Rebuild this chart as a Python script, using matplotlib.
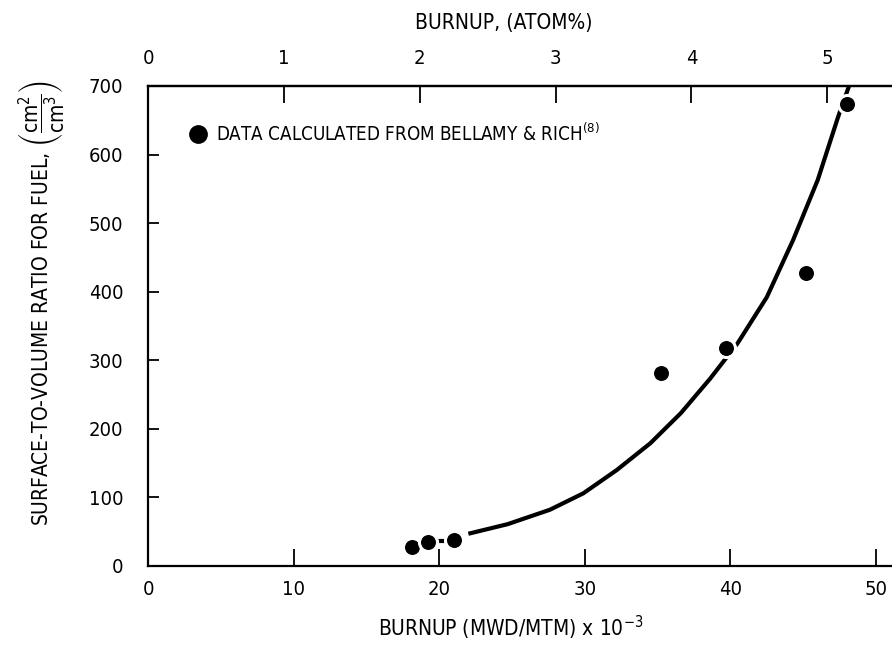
import matplotlib.pyplot as plt

plt.rcParams['font.family'] = ['DejaVu Sans']
plt.rcParams['font.stretch'] = 'condensed'

# data points (burnup MWD/MTM x 1e-3, surface-to-volume cm2/cm3)
burnup = [18.1, 19.2, 21.0, 35.2, 39.7, 45.2, 48.0]
ratio = [28, 35, 38, 281, 318, 427, 673]

# hand-drawn fit curve
curve_burnup = [22.0, 24.7, 27.6, 29.9, 32.2, 34.5, 36.6, 38.6, 40.5, 42.5, 44.3, 46.0, 47.4, 48.1, 48.3]
curve_ratio = [47, 61, 82, 106, 140, 179, 223, 273, 325, 392, 475, 563, 655, 697, 710]

# short connector between 2nd and 3rd points
dash_burnup = [19.9, 20.4]
dash_ratio = [37, 37]

MWD_PER_ATOM = 9.33

fig = plt.figure(figsize=(8.92, 6.45), dpi=100)
ax = fig.add_axes([0.166, 0.1225, 0.834, 0.7442])

ax.plot(curve_burnup, curve_ratio, color="black", lw=3, solid_capstyle="butt", zorder=2)
ax.plot(dash_burnup, dash_ratio, color="black", lw=3, solid_capstyle="butt", zorder=2)
ax.plot(burnup, ratio, "o", color="black", ms=13, mec="white", mew=2.2, zorder=3)

# legend entry
ax.plot([3.4], [630], "o", color="black", ms=12.5)
ax.text(4.7, 630, r"DATA CALCULATED FROM BELLAMY & RICH$^{(8)}$", fontsize=13.5, va="center")

ax.set_xlim(0, 51.1)
ax.set_ylim(0, 700)
ax.set_xticks([0, 10, 20, 30, 40, 50])
ax.set_yticks(range(0, 701, 100))

ax.spines["right"].set_visible(False)
for s in ["left", "bottom", "top"]:
    ax.spines[s].set_linewidth(1.6)

ax.tick_params(axis="x", direction="in", length=12, width=1.3, pad=10, labelsize=14.5)
ax.tick_params(axis="y", direction="in", length=8, width=1.3, pad=18, labelsize=14.5)

ax.set_xlabel(r"BURNUP (MWD/MTM) x 10$^{-3}$", fontsize=15)
ax.xaxis.set_label_coords(0.488, -0.1)
ax.set_ylabel(r"SURFACE-TO-VOLUME RATIO FOR FUEL, $\left(\dfrac{\mathrm{cm}^2}{\mathrm{cm}^3}\right)$",
              fontsize=15)
ax.yaxis.set_label_coords(-0.108, 0.548)

top = ax.secondary_xaxis("top", functions=(lambda x: x / MWD_PER_ATOM, lambda x: x * MWD_PER_ATOM))
top.set_xticks([0, 1, 2, 3, 4, 5])
top.tick_params(direction="in", length=12, width=1.3, pad=13, labelsize=14.5)
top.spines["top"].set_linewidth(1.6)
fig.text(0.565, 0.964, "BURNUP, (ATOM%)", fontsize=15, ha="center", va="center")

fig.savefig("out.png", dpi=100)
